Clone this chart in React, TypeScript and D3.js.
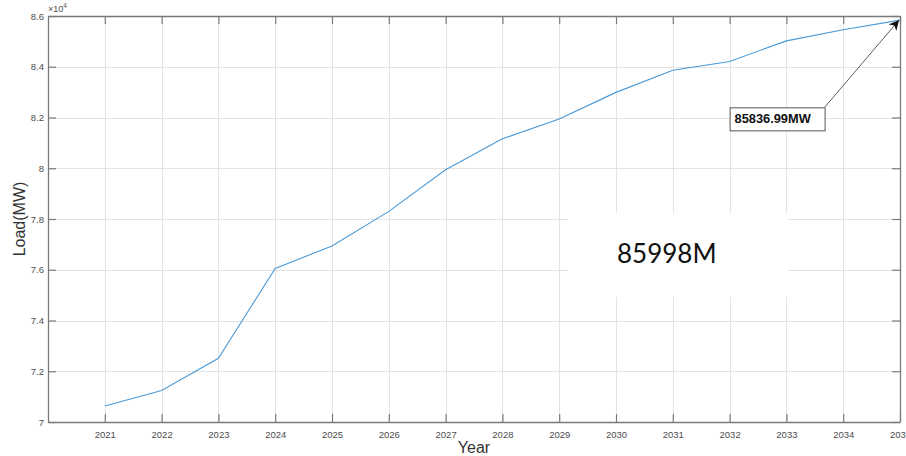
import React, { useEffect, useRef } from "react";
import * as d3 from "d3";

// load forecast, MW
const years = [2021, 2022, 2023, 2024, 2025, 2026, 2027, 2028, 2029, 2030, 2031, 2032, 2033, 2034, 2035];
const loads = [70630, 71240, 72510, 76050, 76940, 78300, 79940, 81160, 81940, 82990, 83860, 84210, 85020, 85460, 85836.99];
const yTicks = [70000, 72000, 74000, 76000, 78000, 80000, 82000, 84000, 86000];
const annotationText = "85836.99MW";
const pastedText = "85998M";

const W = 906;
const H = 456;
const margin = { left: 48, top: 16, right: 6, bottom: 34 };

export default function App() {
  const ref = useRef<SVGSVGElement>(null);

  useEffect(() => {
    document.body.style.margin = "0";
    const svg = d3.select(ref.current);
    svg.selectAll("*").remove();

    const x = d3.scaleLinear().domain([2020, 2035]).range([margin.left, W - margin.right]);
    const y = d3.scaleLinear().domain([70000, 86000]).range([H - margin.bottom, margin.top]);
    const axisColor = "#7a7a7a";
    const textColor = "#4d4d4d";
    const font = "Arial, Liberation Sans, sans-serif";

    svg.append("rect").attr("width", W).attr("height", H).attr("fill", "#fff");

    // grid
    const grid = svg.append("g").attr("stroke", "#e3e3e3").attr("stroke-width", 1);
    years.forEach((yr) => {
      grid.append("line")
        .attr("x1", Math.round(x(yr)) + 0.5).attr("x2", Math.round(x(yr)) + 0.5)
        .attr("y1", y(86000)).attr("y2", y(70000));
    });
    yTicks.forEach((v) => {
      grid.append("line")
        .attr("x1", x(2020)).attr("x2", x(2035))
        .attr("y1", Math.round(y(v)) + 0.5).attr("y2", Math.round(y(v)) + 0.5);
    });

    // the line
    const line = d3.line<number>()
      .x((d, i) => x(years[i]))
      .y((d) => y(d));
    svg.append("path")
      .datum(loads)
      .attr("d", line)
      .attr("fill", "none")
      .attr("stroke", "#4a9ad8")
      .attr("stroke-width", 1.1);

    // axes (inside ticks, boxed)
    const gx = svg.append("g").attr("transform", `translate(0,${y(70000)})`)
      .call(d3.axisBottom(x).tickValues(years).tickFormat(d3.format("d")).tickSizeInner(-8).tickSizeOuter(0).tickPadding(9));
    const gxTop = svg.append("g").attr("transform", `translate(0,${y(86000)})`)
      .call(d3.axisTop(x).tickValues(years).tickFormat(() => "").tickSizeInner(-8).tickSizeOuter(0));
    const gy = svg.append("g").attr("transform", `translate(${x(2020)},0)`)
      .call(d3.axisLeft(y).tickValues(yTicks).tickFormat((d) => String(+d / 10000)).tickSizeInner(-8).tickSizeOuter(0).tickPadding(4));
    const gyRight = svg.append("g").attr("transform", `translate(${x(2035)},0)`)
      .call(d3.axisRight(y).tickValues(yTicks).tickFormat(() => "").tickSizeInner(-8).tickSizeOuter(0));

    [gx, gxTop, gy, gyRight].forEach((g) => {
      g.select(".domain").attr("stroke", axisColor).attr("stroke-width", 1.3);
      g.selectAll(".tick line").attr("stroke", axisColor).attr("stroke-width", 1.2);
      g.selectAll("text").attr("fill", textColor).attr("font-family", font).attr("font-size", 9.5);
    });

    // exponent
    const exp = svg.append("text").attr("x", x(2020)).attr("y", 12)
      .attr("font-family", font).attr("fill", textColor).attr("font-size", 9);
    exp.append("tspan").text("×10");
    exp.append("tspan").attr("font-size", 6.5).attr("dy", -4).text("4");

    // axis titles
    svg.append("text").attr("x", 474).attr("y", 453)
      .attr("text-anchor", "middle").attr("font-family", font)
      .attr("font-size", 16).attr("fill", "#333").text("Year");
    svg.append("text").attr("transform", `translate(25,219) rotate(-90)`)
      .attr("text-anchor", "middle").attr("font-family", font)
      .attr("font-size", 16).attr("fill", "#333").text("Load(MW)");

    // annotation arrow + box
    const last = loads[loads.length - 1];
    const bx = x(2032), by = y(82400);
    svg.append("defs").append("marker")
      .attr("id", "ah").attr("viewBox", "0 0 10 10").attr("refX", 10).attr("refY", 5)
      .attr("markerWidth", 10).attr("markerHeight", 10).attr("markerUnits", "userSpaceOnUse")
      .attr("orient", "auto")
      .append("path").attr("d", "M0,0 L10,5 L0,10 L3,5 Z").attr("fill", "#111");
    svg.append("line")
      .attr("x1", bx + 95).attr("y1", by)
      .attr("x2", x(2035) - 1).attr("y2", y(last))
      .attr("stroke", "#333").attr("stroke-width", 0.8)
      .attr("marker-end", "url(#ah)");
    svg.append("rect").attr("x", bx + 0.5).attr("y", by + 0.5).attr("width", 95).attr("height", 23)
      .attr("fill", "#fff").attr("stroke", "#555").attr("stroke-width", 1);
    svg.append("text").attr("x", bx + 5).attr("y", by + 16)
      .attr("font-family", font).attr("font-weight", "bold")
      .attr("font-size", 12.8).attr("fill", "#111").text(annotationText);

    // pasted white patch with text
    svg.append("rect").attr("x", 568).attr("y", 213).attr("width", 220).attr("height", 84).attr("fill", "#fff");
    svg.append("text").attr("x", 617).attr("y", 263)
      .attr("font-family", "Lato, Open Sans, sans-serif").attr("font-size", 26)
      .attr("fill", "#111").text(pastedText);
  }, []);

  return <svg ref={ref} width={W} height={H} style={{ display: "block" }} />;
}
